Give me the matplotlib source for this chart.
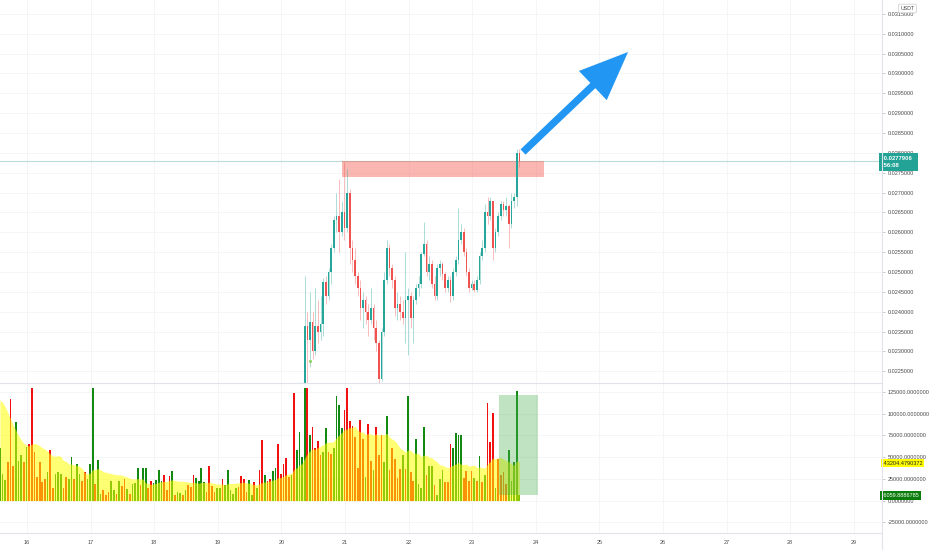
import numpy as np
import pandas as pd
import matplotlib
matplotlib.use('Agg')
import matplotlib.pyplot as plt
import matplotlib.transforms as mtrans
from matplotlib.patches import Rectangle
from matplotlib.ticker import FuncFormatter

plt.rcParams['font.family'] = ['Liberation Sans', 'DejaVu Sans']

# hourly bars, time axis in day-of-month units
last_t = 23.741
day_ticks = list(range(16, 30))

# volume per bar (thousands) and direction (g = up, r = down)
vol = [61, 31, 24, 44, 117, 40, 90, 46, 52, 44, 62, 65, 130, 56, 27, 44, 21, 25, 33, 58,
       15, 31, 33, 31, 15, 27, 25, 50, 25, 42, 31, 23, 33, 25, 42, 130, 19, 47, 8, 12,
       6, 10, 23, 12, 8, 23, 17, 25, 13, 8, 19,
       20, 38, 18, 38, 38, 15, 22, 20, 24, 35, 22, 29, 12, 28, 34, 6, 10, 9, 6, 12,
       18, 16, 30, 26, 23, 38, 21, 10, 40, 17, 10, 15, 14, 25, 18, 35, 12, 8, 14, 16,
       28, 25, 10, 24, 6, 21, 15, 35, 70, 29, 23, 25, 34, 38, 65, 31, 42, 49, 27, 29,
       124, 58, 79, 50,
       130, 130, 75, 85, 60, 69, 52, 56, 84, 56, 54, 61, 120, 110, 84, 104, 130, 92, 86, 73,
       38, 93, 71, 27, 88, 46, 35, 85, 52, 75, 44, 97, 35, 60, 48, 26, 36, 53, 36, 120,
       33, 23, 71, 19, 15, 85, 29, 40, 40, 18, 6, 25, 35, 21, 21, 65, 61, 78, 75, 76,
       26, 34, 22, 34, 26, 23, 51, 21, 29, 112, 67, 101, 15, 48, 29, 33, 19, 58, 23, 44,
       126, 6.0598886785]
vol_dir = ("gggrrrgggrgrrrrrrrgrrgggrrggrggrrgggrggrrrggrgrrgrg"
           "ggrggrrggg" "grrrgrggrg" "rrrggggrrr" "rggrgggggr" "rrrggrgrrg" "rrggrrrrrg" "rggg"
           "grgrrrrggr" "rggggrrrrr" "rrrgrrgrrr" "ggrrrrrgrg" "rrggggrggr" "gggrrrgggg"
           "rrrrgrgrgr" "rrgrrrrggg" "gg")
# 20-bar volume average; first bars (no earlier history shown)
ma_lead = [116, 113, 108, 101, 94, 87, 81, 75, 70, 66, 64, 63, 65, 66, 65, 63, 61, 59, 57]
ma_last = 43204.4790372
vol_last_label = "6059.8886785"

# candles (only the part above 0.0222 is visible)
open0 = 0.02205
c_close = [0.02212, 0.02365, 0.02330, 0.02375, 0.02300, 0.02365, 0.02350, 0.02370, 0.02475, 0.02440,
           0.02500, 0.02560, 0.02630, 0.02640, 0.02600, 0.02650, 0.02610, 0.02700, 0.02560, 0.02530,
           0.02490, 0.02460, 0.02410, 0.02430, 0.02400, 0.02380, 0.02410, 0.02360, 0.02320, 0.02230,
           0.02350, 0.02480, 0.02560, 0.02510, 0.02480, 0.02410, 0.02420, 0.02400, 0.02385, 0.02430,
           0.02440, 0.02385, 0.02430, 0.02460, 0.02470, 0.02545, 0.02570, 0.02500, 0.02520, 0.02470,
           0.02440, 0.02510, 0.02520, 0.02495, 0.02460, 0.02480, 0.02440, 0.02500, 0.02530, 0.02580,
           0.02600, 0.02550, 0.02500, 0.02460, 0.02470, 0.02455, 0.02480, 0.02540, 0.02560, 0.02650,
           0.02640, 0.02680, 0.02560, 0.02600, 0.02640, 0.02670, 0.02655, 0.02665, 0.02620, 0.02680,
           0.02690, 0.02800, 0.0277906]
c_high = [0.02222, 0.02490, 0.02400, 0.02450, 0.02400, 0.02460, 0.02430, 0.02440, 0.02485, 0.02490,
          0.02510, 0.02570, 0.02640, 0.02700, 0.02735, 0.02680, 0.02776, 0.02760, 0.02710, 0.02580,
          0.02560, 0.02500, 0.02480, 0.02450, 0.02440, 0.02420, 0.02460, 0.02420, 0.02380, 0.02330,
          0.02360, 0.02500, 0.02580, 0.02570, 0.02520, 0.02490, 0.02450, 0.02440, 0.02430, 0.02550,
          0.02460, 0.02450, 0.02440, 0.02470, 0.02490, 0.02550, 0.02625, 0.02580, 0.02540, 0.02530,
          0.02490, 0.02520, 0.02530, 0.02525, 0.02500, 0.02490, 0.02490, 0.02510, 0.02540, 0.02660,
          0.02620, 0.02610, 0.02560, 0.02510, 0.02480, 0.02480, 0.02490, 0.02550, 0.02580, 0.02670,
          0.02690, 0.02690, 0.02680, 0.02610, 0.02650, 0.02680, 0.02680, 0.02690, 0.02670, 0.02700,
          0.02700, 0.02810, 0.02810]
c_low = [0.02195, 0.02205, 0.02220, 0.02260, 0.02280, 0.02290, 0.02320, 0.02330, 0.02340, 0.02420,
         0.02430, 0.02470, 0.02550, 0.02600, 0.02550, 0.02590, 0.02580, 0.02600, 0.02520, 0.02500,
         0.02470, 0.02440, 0.02380, 0.02360, 0.02370, 0.02340, 0.02370, 0.02330, 0.02300, 0.02215,
         0.02225, 0.02340, 0.02470, 0.02490, 0.02460, 0.02390, 0.02380, 0.02380, 0.02370, 0.02320,
         0.02290, 0.02360, 0.02320, 0.02420, 0.02440, 0.02460, 0.02540, 0.02490, 0.02480, 0.02460,
         0.02430, 0.02430, 0.02490, 0.02480, 0.02450, 0.02450, 0.02425, 0.02430, 0.02490, 0.02520,
         0.02570, 0.02540, 0.02490, 0.02450, 0.02455, 0.02450, 0.02450, 0.02470, 0.02530, 0.02550,
         0.02620, 0.02630, 0.02530, 0.02550, 0.02590, 0.02630, 0.02640, 0.02640, 0.02560, 0.02610,
         0.02660, 0.02665, 0.02765]
dot_price = 0.02276
dot_bar = 3

last_price_label = "0.0277906"
countdown = "56:08"
zone_x = (20.953, 24.129)
zone_y = (0.027392, 0.027795)
vol_box_x = (23.421, 24.035)
vol_box_y = (6400, 121500)
arrow_tail = (23.799, 0.028022)
arrow_tip = (25.450, 0.030539)

UP, DN = '#26a69a', '#ef5350'
GRID = '#f3f4f6'
LINE = '#e0e3eb'
TXT = '#4a4a4a'

n = len(vol)
t = last_t - (n - 1 - np.arange(n)) / 24.0
v = np.array(vol) * 1000.0
ma = pd.Series(v).rolling(20).mean().to_numpy()
ma[:len(ma_lead)] = np.array(ma_lead) * 1000.0

fig = plt.figure(figsize=(9.32, 5.5), dpi=100)
W, H = 932.0, 550.0
ax = fig.add_axes([0, 1 - 383 / H, 882 / W, 383 / H])
axv = fig.add_axes([0, 1 - 533 / H, 882 / W, 150 / H])

xlim = (15.5755, 29.443)
for a in (ax, axv):
    a.set_xlim(*xlim)
    for s in ('left', 'top', 'right', 'bottom'):
        a.spines[s].set_visible(False)
    a.set_xticks(day_ticks)
    a.yaxis.tick_right()
    a.tick_params(axis='y', length=2.5, width=0.5, color='#b2b5be', pad=1.5,
                  labelsize=4, labelcolor=TXT)
    a.grid(True, color=GRID, lw=0.6)
    a.set_axisbelow(True)

ax.set_ylim(0.022205, 0.031849)
ax.set_yticks(np.arange(0.0225, 0.03151, 0.0005))
ax.yaxis.set_major_formatter(FuncFormatter(lambda y, _: f'{y:.7f}'))
ax.tick_params(axis='x', length=0, labelbottom=False)

axv.set_ylim(-37300, 135400)
axv.set_yticks([-25000, 0, 25000, 50000, 75000, 100000, 125000])
axv.yaxis.set_major_formatter(FuncFormatter(lambda y, _: f'{y:.7f}'))
axv.tick_params(axis='x', length=0, pad=5, labelsize=4, labelcolor=TXT)
for s in ('top', 'bottom'):
    axv.spines[s].set_visible(True)
    axv.spines[s].set_color(LINE)
    axv.spines[s].set_linewidth(0.8)

# volume bars with the translucent yellow average on top
vcol = ['#128a12' if d == 'g' else '#f21010' for d in vol_dir]
axv.bar(t, v, width=0.027, color=vcol, linewidth=0, zorder=2)
axv.fill_between(t, 0, ma, color='#ffff00', alpha=0.55, linewidth=0, zorder=3)
axv.add_patch(Rectangle((vol_box_x[0], vol_box_y[0]), vol_box_x[1] - vol_box_x[0],
                        vol_box_y[1] - vol_box_y[0], color='#4caf50', alpha=0.35, lw=0, zorder=4))

# candles
nc = len(c_close)
tc = t[-nc:]
c_open = [open0] + c_close[:-1]
for ti, o, h, l, c in zip(tc, c_open, c_high, c_low, c_close):
    col = UP if c >= o else DN
    ax.vlines(ti, l, h, color=col, alpha=0.45, lw=0.6, zorder=3)
    ax.bar(ti, max(abs(c - o), 0.000012), bottom=min(o, c), width=0.026,
           color=col, linewidth=0, zorder=4)
ax.plot(tc[dot_bar], dot_price, 'o', ms=2.3, color='#8fd46a', mec='none', zorder=5)

# resistance zone, last price line, arrow
ax.add_patch(Rectangle((zone_x[0], zone_y[0]), zone_x[1] - zone_x[0], zone_y[1] - zone_y[0],
                       color='#f44336', alpha=0.38, lw=0, zorder=2))
ax.axhline(c_close[-1], color='#bcdcd8', lw=0.8, zorder=1)
ax.annotate('', xy=arrow_tip, xytext=arrow_tail,
            arrowprops=dict(arrowstyle='simple,head_length=1.75,head_width=1.45,tail_width=0.26',
                            mutation_scale=20, color='#2196f3', lw=0, shrinkA=0, shrinkB=0),
            zorder=6)

# right-hand scale labels
tr_p = mtrans.blended_transform_factory(ax.transAxes, ax.transData)
tr_v = mtrans.blended_transform_factory(axv.transAxes, axv.transData)
ax.text(1.0, c_close[-1] + 0.00013, ' ' + last_price_label + '  \n ' + countdown,
        transform=tr_p, va='top', ha='left', fontsize=4.2, color='white', linespacing=1.6,
        fontweight='bold', clip_on=False, zorder=10,
        bbox=dict(boxstyle='square,pad=0.45', fc='#22a396', ec='none'))
axv.text(1.0, ma_last, ' ' + f'{ma_last:.7f}', transform=tr_v, va='center',
         ha='left', fontsize=4, color='#222222', clip_on=False, zorder=10,
         bbox=dict(boxstyle='square,pad=0.25', fc='#ffff00', ec='none'))
axv.text(1.0, v[-1], ' ' + vol_last_label, transform=tr_v, va='center', ha='left',
         fontsize=4, color='white', clip_on=False, zorder=10,
         bbox=dict(boxstyle='square,pad=0.35', fc='#0b7d0b', ec='none'))
fig.text(907.5 / W, 1 - 8.5 / H, 'USDT', ha='center', va='center', fontsize=3.8, color=TXT,
         zorder=10, bbox=dict(boxstyle='round,pad=0.35,rounding_size=0.3', fc='white',
                              ec='#c8cad0', lw=0.5))

# right scale border
fig.add_artist(plt.Line2D([882 / W, 882 / W], [0, 1], color=LINE, lw=0.8))

fig.savefig('out.png', dpi=100, facecolor='white')
